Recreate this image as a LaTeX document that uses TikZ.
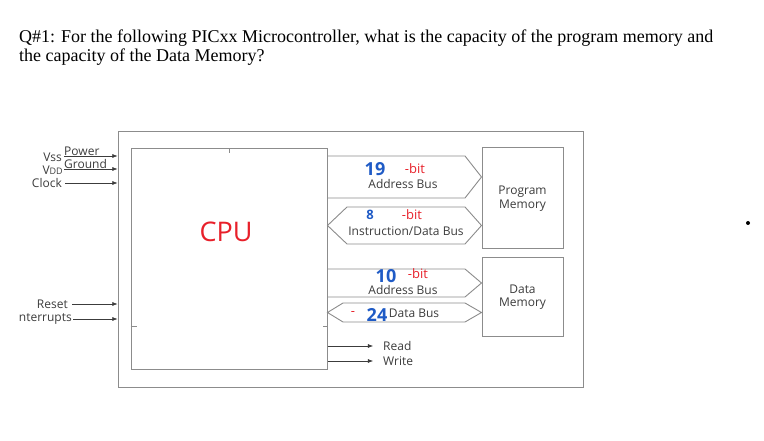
\documentclass[tikz,border=0pt]{standalone}
\usepackage{fontspec}
\setmainfont{Liberation Serif}
\setsansfont{Open Sans}
\usetikzlibrary{arrows.meta, positioning}
\definecolor{linegray}{HTML}{8C8C8C}
\definecolor{labelgray}{HTML}{3C3C3C}
\definecolor{penblue}{HTML}{1F5BC6}
\definecolor{penred}{HTML}{E8202A}

\begin{document}
\begin{tikzpicture}[
    x=1pt, y=-1pt,
    block/.style={
        rectangle,
        draw=linegray,
        line width=1pt,
        inner sep=0pt,
        fill=white
    },
    lbl/.style={
        font=\sffamily\fontsize{12}{13.5}\selectfont,
        text=labelgray,
        inner sep=0pt
    },
    bus/.style={
        draw=linegray,
        line width=.9pt,
        line join=miter
    },
    pin/.style={
        -{Latex[length=1.8mm, width=1.4mm]},
        line width=.6pt,
        draw=labelgray
    },
    bluepen/.style={
        font=\sffamily\bfseries\fontsize{18}{18}\selectfont,
        text=penblue,
        inner sep=0pt
    },
    redpen/.style={
        font=\sffamily\fontsize{13}{13}\selectfont,
        text=penred,
        inner sep=0pt
    }
]
\useasboundingbox (0,0) rectangle (764,441);

% ------------------------------------------------
% Question
% ------------------------------------------------
\node[anchor=west, inner sep=0pt, font=\fontsize{18}{19}\selectfont] (q1) at (19,38)
  {Q\#1: For the following PICxx Microcontroller, what is the capacity of the program memory and};
\node[anchor=west, inner sep=0pt, font=\fontsize{18}{19}\selectfont] (q2) at (19,57)
  {the capacity of the Data Memory?};

% ------------------------------------------------
% Blocks
% ------------------------------------------------
\node[block, minimum width=465pt, minimum height=255pt] (chip) at (350.5,259.5) {};
\node[block, minimum width=196pt, minimum height=220pt] (cpu) at (229,259) {};
\node[block, minimum width=81pt, minimum height=101pt, lbl, align=center] (pmem) at (522.5,198.5) {Program\\Memory};
\node[block, minimum width=81pt, minimum height=78pt, lbl, align=center] (dmem) at (522.5,297) {Data\\Memory};

\draw[linegray, line width=.8pt] (cpu.north) -- ++(0,5);
\draw[linegray, line width=.8pt] (cpu.west |- 0,326) -- ++(6,0);
\draw[linegray, line width=.8pt] (cpu.east |- 0,326) -- ++(-5,0);

% ------------------------------------------------
% Buses
% ------------------------------------------------
\draw[bus] (cpu.east |- 0,156) -- (465,156) -- (pmem.west |- 0,177) -- (465,198) -- (cpu.east |- 0,198);
\draw[bus] (cpu.east |- 0,225.5) -- (347,207) -- (465,207) -- (pmem.west |- 0,225.5) -- (465,244) -- (347,244) -- cycle;
\draw[bus] (cpu.east |- 0,269) -- (465,269) -- (dmem.west |- 0,283) -- (465,297) -- (cpu.east |- 0,297);
\draw[bus] (cpu.east |- 0,312.5) -- (343,303) -- (465,303) -- (dmem.west |- 0,312.5) -- (465,322) -- (343,322) -- cycle;

\node[lbl] (pab) at (403,184) {Address Bus};
\node[lbl] (idb) at (406,231) {Instruction/Data Bus};
\node[lbl] (dab) at (403,290) {Address Bus};
\node[lbl] (db)  at (414,313) {Data Bus};

% ------------------------------------------------
% Read / Write
% ------------------------------------------------
\node[lbl, anchor=west] (rd) at (383,346) {Read};
\node[lbl, anchor=west] (wr) at (383,361) {Write};
\draw[pin] (cpu.east |- rd) -- ([xshift=-10pt]rd.west);
\draw[pin] (cpu.east |- wr) -- ([xshift=-10pt]wr.west);

% ------------------------------------------------
% Inputs
% ------------------------------------------------
\node[lbl, anchor=west] (pwr) at (64,151) {Power};
\node[lbl, anchor=west] (gnd) at (64,164) {Ground};
\node[lbl, anchor=east] (vss) at (62,157) {Vss};
\node[lbl, anchor=east] (vdd) at (63,170) {V\fontsize{9}{9}\selectfont DD};
\node[lbl, anchor=east] (clk) at (62,183) {Clock};
\node[lbl, anchor=east] (rst) at (68,304) {Reset};
\node[lbl, anchor=east] (irq) at (72,319) {nterrupts};

\draw[pin] (pwr.west |- 0,156) -- (chip.west |- 0,156);
\draw[pin] (gnd.west |- 0,169) -- (chip.west |- 0,169);
\draw[pin] ([xshift=3pt]clk.east) -- (chip.west |- clk);
\draw[pin] ([xshift=4pt]rst.east) -- (chip.west |- rst);
\draw[pin] ([xshift=1pt]irq.east) -- (chip.west |- irq);

% ------------------------------------------------
% Hand notes
% ------------------------------------------------
\node[font=\sffamily\fontsize{27}{27}\selectfont, text=penred, inner sep=0pt] (cpuname) at (226,232) {CPU};
\node[bluepen] (n19) at (375,169) {19};
\node[redpen]  (b19) at (415,169) {-bit};
\node[bluepen, font=\sffamily\bfseries\fontsize{13}{13}\selectfont] (n8) at (370,215) {8};
\node[redpen]  (b8)  at (412,215) {-bit};
\node[bluepen] (n10) at (386,276) {10};
\node[redpen]  (b10) at (418,274) {-bit};
\node[redpen]  (d24) at (353,314) {-};
\node[bluepen] (n24) at (377,315) {24};

\node[circle, fill=black, inner sep=0pt, minimum size=4pt] (dot) at (748,223) {};

\end{tikzpicture}
\end{document}
